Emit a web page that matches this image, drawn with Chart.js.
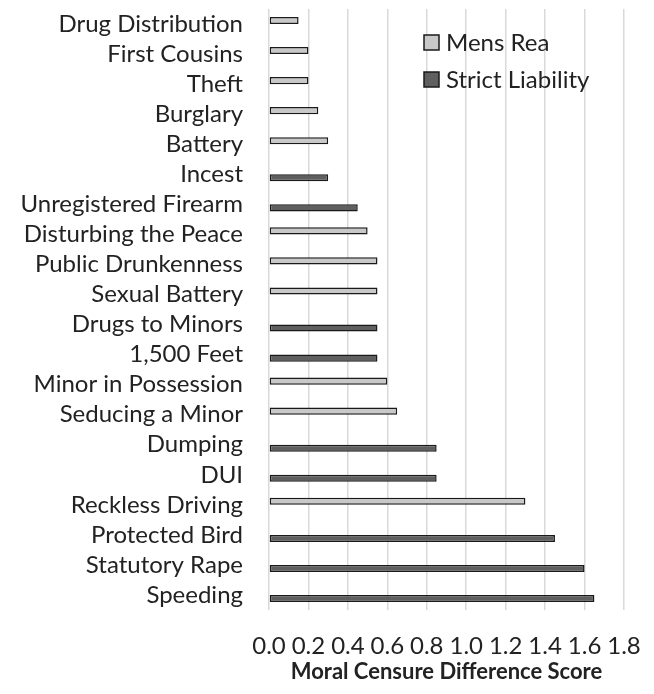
<!DOCTYPE html>
<html>
<head>
<meta charset="utf-8">
<script src="https://cdn.jsdelivr.net/npm/chart.js@4.4.1/dist/chart.umd.min.js"></script>
<style>
  html, body { margin: 0; padding: 0; background: #fff; }
  #wrap { width: 654px; height: 694px; position: relative; }
</style>
</head>
<body>
<div id="wrap"><canvas id="myChart"></canvas></div>
<script>
// offences, top to bottom
var offences = ['Drug Distribution', 'First Cousins', 'Theft', 'Burglary', 'Battery', 'Incest',
  'Unregistered Firearm', 'Disturbing the Peace', 'Public Drunkenness', 'Sexual Battery',
  'Drugs to Minors', '1,500 Feet', 'Minor in Possession', 'Seducing a Minor', 'Dumping', 'DUI',
  'Reckless Driving', 'Protected Bird', 'Statutory Rape', 'Speeding'];

var mensRea = [0.15, 0.20, 0.20, 0.25, 0.30, null,
  null, 0.50, 0.55, 0.55,
  null, null, 0.60, 0.65, null, null,
  1.30, null, null, null];

var strictLiability = [null, null, null, null, null, 0.30,
  0.45, null, null, null,
  0.55, 0.55, null, null, 0.85, 0.85,
  null, 1.45, 1.60, 1.65];

var xTicks = [0, 0.2, 0.4, 0.6, 0.8, 1.0, 1.2, 1.4, 1.6, 1.8];

var FONT = 'Lato';

// legend drawn inside the plot, top right
var insideLegend = {
  id: 'insideLegend',
  afterDraw: function(chart) {
    var c = chart.ctx;
    var area = chart.chartArea;
    var x = area.left + 155;
    var y = area.top + 33;
    c.save();
    c.font = '24px ' + FONT;
    c.textBaseline = 'middle';
    chart.data.datasets.forEach(function(ds, i) {
      var yy = y + i * 37;
      c.fillStyle = ds.backgroundColor;
      c.fillRect(x, yy - 7, 15, 15);
      c.strokeStyle = '#1a1a1a';
      c.lineWidth = 1.5;
      c.strokeRect(x, yy - 7, 15, 15);
      c.fillStyle = '#222';
      c.fillText(ds.label, x + 22, yy + 1);
    });
    c.restore();
  }
};

var ctx = document.getElementById('myChart').getContext('2d');
var chart = new Chart(ctx, {
  type: 'bar',
  data: {
    labels: offences,
    datasets: [{
      label: 'Mens Rea',
      data: mensRea,
      backgroundColor: '#c8c8c8',
      borderColor: '#1a1a1a',
      borderWidth: 1.5,
      borderSkipped: false
    }, {
      label: 'Strict Liability',
      data: strictLiability,
      backgroundColor: '#5f5f5f',
      borderColor: '#1a1a1a',
      borderWidth: 1.5,
      borderSkipped: false
    }]
  },
  options: {
    indexAxis: 'y',
    responsive: true,
    maintainAspectRatio: false,
    animation: false,
    categoryPercentage: 0.47,
    barPercentage: 1.0,
    layout: { padding: { top: 9, right: 30, bottom: 0, left: 0 } },
    plugins: {
      legend: { display: false },
      tooltip: { enabled: false }
    },
    scales: {
      x: {
        type: 'linear',
        min: 0,
        max: 1.8,
        afterBuildTicks: function(scale) {
          scale.ticks = xTicks.map(function(v) { return { value: v }; });
        },
        afterFit: function(scale) {
          scale.height = 84;
          scale.paddingLeft = 0;
          scale.paddingRight = 0;
        },
        grid: { color: '#d9d9d9', lineWidth: 1.5, drawTicks: false },
        border: { display: false },
        ticks: {
          autoSkip: false,
          maxRotation: 0,
          padding: 22,
          color: '#222',
          font: { family: FONT, size: 24 },
          callback: function(v) { return Number(v).toFixed(1); }
        },
        title: {
          display: true,
          text: 'Moral Censure Difference Score',
          color: '#222',
          font: { family: FONT, size: 22, weight: 'bold' },
          padding: { top: 0, bottom: 9 }
        }
      },
      y: {
        afterFit: function(scale) {
          scale.width = 269;
          scale.paddingTop = 0;
          scale.paddingBottom = 0;
        },
        grid: { display: false, drawTicks: false },
        border: { display: false },
        ticks: {
          autoSkip: false,
          padding: 26,
          color: '#222',
          font: { family: FONT, size: 24 }
        }
      }
    }
  },
  plugins: [insideLegend]
});
</script>
</body>
</html>
